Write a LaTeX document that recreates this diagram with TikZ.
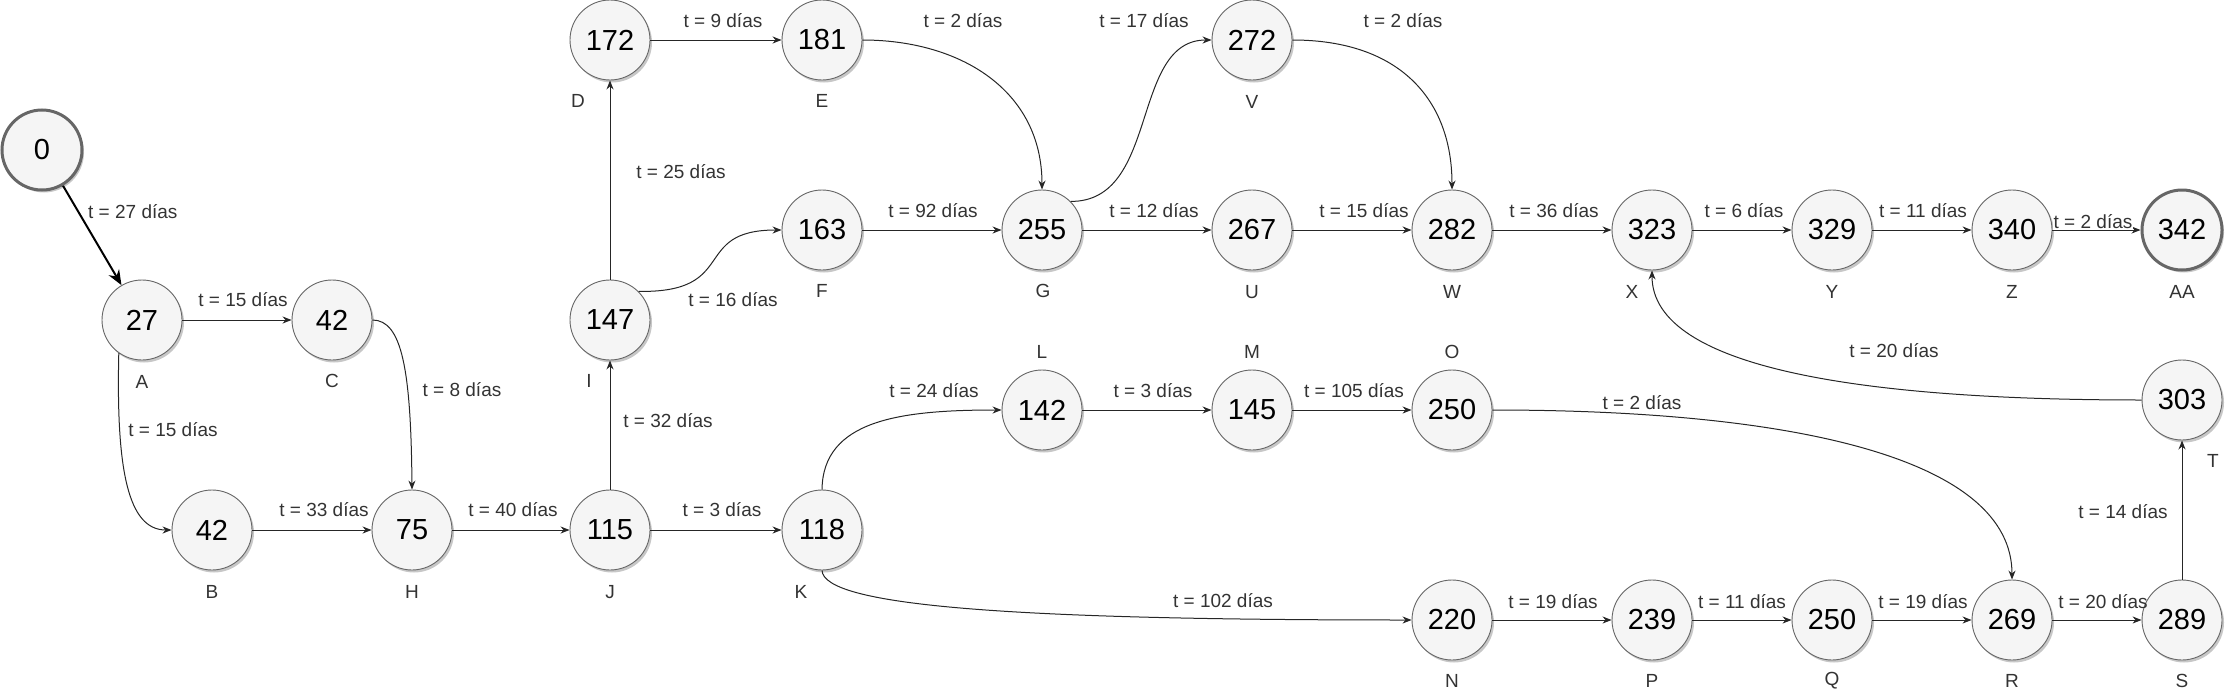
\documentclass[tikz,border=0pt]{standalone}
\usepackage{fontspec}
\setmainfont{Liberation Sans}
\usetikzlibrary{arrows.meta,shadows}
\definecolor{nodefill}{HTML}{F5F5F5}
\definecolor{nodeline}{HTML}{666666}
\definecolor{lbl}{HTML}{333333}
\begin{document}
\begin{tikzpicture}[x=1pt,y=-1pt,
  ev/.style={circle,minimum size=80pt,inner sep=0pt,draw=nodeline,line width=0.9pt,fill=nodefill,
     font=\fontsize{29}{30}\selectfont,
     drop shadow={shadow xshift=2pt,shadow yshift=-2.5pt,opacity=0.22,fill=black}},
  evthick/.style={ev,line width=3pt},
  tag/.style={font=\fontsize{19}{20}\selectfont,text=lbl,inner sep=1pt},
  dur/.style={font=\fontsize{19}{20}\selectfont,text=lbl,inner sep=1pt},
  durbg/.style={dur,fill=white,inner sep=1pt},
  conn/.style={draw=black!85,line width=1pt,-{Stealth[length=9pt,width=7pt]}},
  bigconn/.style={draw=black,line width=2pt,-{Stealth[length=15pt,width=12pt]}}
]
\useasboundingbox (0,0) rectangle (2235,696);

% events
\node[evthick] (n0) at (42,150) {0};
\node[ev] (A) at (142,320) {27};
\node[ev] (C) at (332,320) {42};
\node[ev] (B) at (212,530) {42};
\node[ev] (H) at (412,530) {75};
\node[ev] (J) at (610,530) {115};
\node[ev] (I) at (610,320) {147};
\node[ev] (D) at (610,40) {172};
\node[ev] (E) at (822,40) {181};
\node[ev] (F) at (822,230) {163};
\node[ev] (G) at (1042,230) {255};
\node[ev] (V) at (1252,40) {272};
\node[ev] (U) at (1252,230) {267};
\node[ev] (W) at (1452,230) {282};
\node[ev] (X) at (1652,230) {323};
\node[ev] (Y) at (1832,230) {329};
\node[ev] (Z) at (2012,230) {340};
\node[evthick] (AA) at (2182,230) {342};
\node[ev] (K) at (822,530) {118};
\node[ev] (L) at (1042,410) {142};
\node[ev] (M) at (1252,410) {145};
\node[ev] (O) at (1452,410) {250};
\node[ev] (T) at (2182,400) {303};
\node[ev] (N) at (1452,620) {220};
\node[ev] (P) at (1652,620) {239};
\node[ev] (Q) at (1832,620) {250};
\node[ev] (R) at (2012,620) {269};
\node[ev] (S) at (2182,620) {289};

% letter tags
\node[tag] (tA) at (142,382) {A};
\node[tag] (tC) at (332,381) {C};
\node[tag] (tB) at (212,592) {B};
\node[tag] (tH) at (412,592) {H};
\node[tag] (tJ) at (610,592) {J};
\node[tag] (tI) at (589,381) {I};
\node[tag] (tD) at (578,101) {D};
\node[tag] (tE) at (822,101) {E};
\node[tag] (tF) at (822,291) {F};
\node[tag] (tG) at (1043,291) {G};
\node[tag] (tV) at (1252,102) {V};
\node[tag] (tU) at (1252,292) {U};
\node[tag] (tW) at (1452,292) {W};
\node[tag] (tX) at (1632,292) {X};
\node[tag] (tY) at (1832,292) {Y};
\node[tag] (tZ) at (2012,292) {Z};
\node[tag] (tAA) at (2182,292) {AA};
\node[tag] (tK) at (801,592) {K};
\node[tag] (tL) at (1042,352) {L};
\node[tag] (tM) at (1252,352) {M};
\node[tag] (tO) at (1452,352) {O};
\node[tag] (tT) at (2213,461) {T};
\node[tag] (tN) at (1452,681) {N};
\node[tag] (tP) at (1652,681) {P};
\node[tag] (tQ) at (1832,681) {Q};
\node[tag] (tR) at (2012,681) {R};
\node[tag] (tS) at (2182,681) {S};

% straight connectors
\draw[bigconn] (n0) -- (A);
\draw[conn] (A) -- (C);
\draw[conn] (B) -- (H);
\draw[conn] (H) -- (J);
\draw[conn] (J) -- (K);
\draw[conn] (J) -- (I);
\draw[conn] (I) -- (D);
\draw[conn] (D) -- (E);
\draw[conn] (F) -- (G);
\draw[conn] (G) -- (U);
\draw[conn] (U) -- (W);
\draw[conn] (W) -- (X);
\draw[conn] (X) -- (Y);
\draw[conn] (Y) -- (Z);
\draw[conn] (Z) -- (AA);
\draw[conn] (L) -- (M);
\draw[conn] (M) -- (O);
\draw[conn] (N) -- (P);
\draw[conn] (P) -- (Q);
\draw[conn] (Q) -- (R);
\draw[conn] (R) -- (S);
\draw[conn] (S) -- (T);

% curved connectors
\draw[conn] (A.235) .. controls (116,470) and (128,530) .. (B.west);
\draw[conn] (C.east) .. controls (402,320) and (411,370) .. (H.north);
\draw[conn] (I.45) .. controls (740,293) and (690,230) .. (F.west);
\draw[conn] (E.east) .. controls (960,40) and (1042,90) .. (G.north);
\draw[conn] (G.45) .. controls (1160,202) and (1130,40) .. (V.west);
\draw[conn] (V.east) .. controls (1400,40) and (1452,100) .. (W.north);
\draw[conn] (K.north) .. controls (823,420) and (900,410) .. (L.west);
\draw[conn] (K.south) .. controls (824,605) and (1000,620) .. (N.west);
\draw[conn] (O.east) .. controls (1800,410) and (2012,460) .. (R.north);
\draw[conn] (T.west) .. controls (1870,400) and (1652,370) .. (X.south);

% durations
\node[dur,anchor=west] (d0A) at (87,212) {t = 27 días};
\node[dur] (dAC) at (243,300) {t = 15 días};
\node[dur] (dAB) at (173,430) {t = 15 días};
\node[dur] (dCH) at (462,390) {t = 8 días};
\node[dur] (dBH) at (324,510) {t = 33 días};
\node[dur] (dHJ) at (513,510) {t = 40 días};
\node[dur] (dJK) at (722,510) {t = 3 días};
\node[dur] (dJI) at (668,421) {t = 32 días};
\node[dur] (dID) at (681,172) {t = 25 días};
\node[dur] (dIF) at (733,300) {t = 16 días};
\node[dur] (dDE) at (723,21) {t = 9 días};
\node[dur] (dEG) at (963,21) {t = 2 días};
\node[dur] (dFG) at (933,211) {t = 92 días};
\node[dur] (dGV) at (1144,21) {t = 17 días};
\node[dur] (dVW) at (1403,21) {t = 2 días};
\node[dur] (dGU) at (1154,211) {t = 12 días};
\node[dur] (dUW) at (1364,211) {t = 15 días};
\node[dur] (dWX) at (1554,211) {t = 36 días};
\node[dur] (dXY) at (1744,211) {t = 6 días};
\node[dur] (dYZ) at (1923,211) {t = 11 días};
\node[durbg] (dZAA) at (2093,222) {t = 2 días};
\node[dur] (dTX) at (1894,351) {t = 20 días};
\node[dur] (dKL) at (934,391) {t = 24 días};
\node[dur] (dLM) at (1153,391) {t = 3 días};
\node[dur] (dMO) at (1354,391) {t = 105 días};
\node[dur] (dKN) at (1223,601) {t = 102 días};
\node[durbg] (dOR) at (1642,403) {t = 2 días};
\node[dur] (dNP) at (1553,602) {t = 19 días};
\node[dur] (dPQ) at (1742,602) {t = 11 días};
\node[dur] (dQR) at (1923,602) {t = 19 días};
\node[dur] (dRS) at (2103,602) {t = 20 días};
\node[dur] (dST) at (2123,512) {t = 14 días};
\end{tikzpicture}
\end{document}
